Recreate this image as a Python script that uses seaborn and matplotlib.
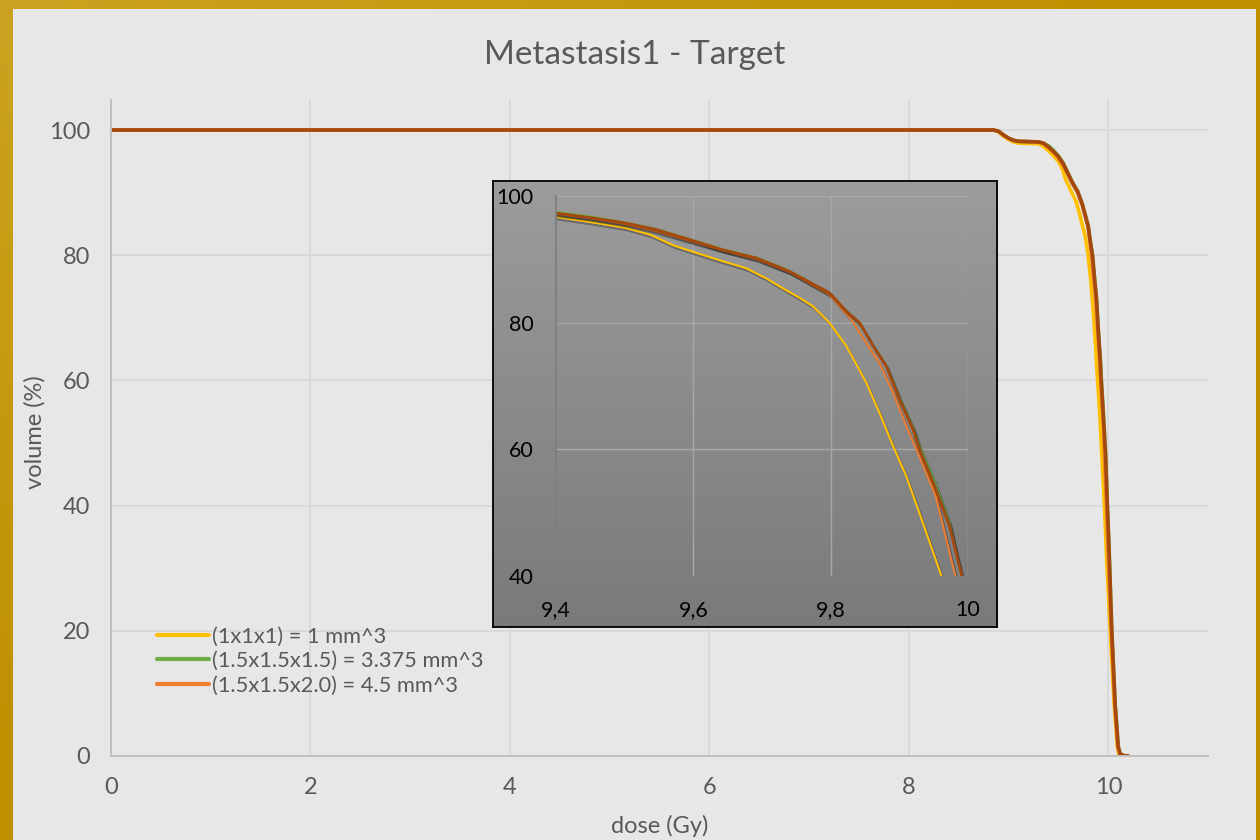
import numpy as np
import pandas as pd
import matplotlib
matplotlib.use("Agg")
import matplotlib.pyplot as plt
import matplotlib.patheffects as pe
from matplotlib.lines import Line2D
from matplotlib.patches import Rectangle
from matplotlib.ticker import FuncFormatter
import seaborn as sns

# ---- DVH data: dose (Gy) and volume (%) per voxel size ----
series_names = [
    "(1x1x1) = 1 mm^3",
    "(1.5x1.5x1.5) = 3.375 mm^3",
    "(1.5x1.5x2.0) = 4.5 mm^3",
    "series 4",
]
series_colors = ["#FFC000", "#70AD47", "#ED7D31", "#A5480D"]

dose_s1 = [0, 8.85, 8.90, 8.95, 9.00, 9.05, 9.10, 9.30, 9.35, 9.40, 9.45, 9.50,
           9.537, 9.571, 9.605, 9.643, 9.677, 9.706, 9.726, 9.755, 9.774, 9.798,
           9.823, 9.852, 9.871, 9.891, 9.910, 9.934, 9.962, 9.985, 10.02, 10.06,
           10.09, 10.105, 10.14, 10.20]
vol_s1 = [100, 100, 99.7, 99.0, 98.5, 98.1, 97.9, 97.8, 97.4, 96.7, 95.9, 95.0,
          93.9, 92.2, 91.0, 89.7, 88.6, 87.0, 85.7, 83.9, 82.6, 80.0,
          76.3, 70.5, 65.8, 60.5, 55.8, 48.5, 39.8, 31, 20, 8,
          1.5, 0.3, 0.05, 0]

dose_s2 = [0, 8.85, 8.90, 8.95, 9.00, 9.05, 9.10, 9.30, 9.35, 9.40, 9.449, 9.498,
           9.546, 9.595, 9.643, 9.692, 9.740, 9.7985, 9.823, 9.842, 9.862, 9.881,
           9.900, 9.920, 9.929, 9.951, 9.973, 9.989, 10.01, 10.035, 10.07, 10.10,
           10.12, 10.16, 10.20]
vol_s2 = [100, 100, 99.8, 99.2, 98.7, 98.35, 98.2, 98.1, 97.9, 97.5, 96.8, 95.9,
          94.8, 93.2, 91.6, 90.3, 88.2, 84.6, 81.9, 79.8, 76.4, 73.3,
          68.2, 63.5, 60.6, 55.0, 48.5, 40.5, 32, 20, 8, 1.5,
          0.3, 0.05, 0]

dose_s3 = [0, 8.85, 8.90, 8.95, 9.00, 9.05, 9.10, 9.30, 9.35, 9.40, 9.449, 9.498,
           9.546, 9.595, 9.643, 9.692, 9.740, 9.7985, 9.830, 9.842, 9.871, 9.891,
           9.910, 9.929, 9.953, 9.982, 10.00, 10.03, 10.065, 10.095, 10.115, 10.15,
           10.20]
vol_s3 = [100, 100, 99.8, 99.2, 98.7, 98.35, 98.2, 98.1, 97.85, 97.2, 96.5, 95.6,
          94.4, 92.9, 91.4, 90.0, 88.0, 84.4, 80.5, 78.4, 73.6, 68.9,
          63.7, 58.9, 52.6, 39.8, 32, 20, 8, 1.5, 0.3, 0.05,
          0]

dose_s4 = [0, 8.85, 8.90, 8.95, 9.00, 9.05, 9.10, 9.30, 9.35, 9.40, 9.449, 9.498,
           9.546, 9.595, 9.643, 9.692, 9.740, 9.7985, 9.823, 9.842, 9.862, 9.881,
           9.900, 9.920, 9.929, 9.951, 9.973, 9.991, 10.01, 10.035, 10.07, 10.10,
           10.12, 10.16, 10.20]
vol_s4 = [100, 100, 99.8, 99.2, 98.7, 98.35, 98.2, 98.1, 97.9, 97.3, 96.6, 95.8,
          94.7, 93.1, 91.5, 90.2, 88.1, 84.7, 81.8, 80.0, 76.3, 73.1,
          67.9, 63.1, 60.0, 54.2, 47.9, 40.0, 32, 20, 8, 1.5,
          0.3, 0.05, 0]

main_xticks = [0, 2, 4, 6, 8, 10]
main_yticks = [0, 20, 40, 60, 80, 100]
inset_xticks = [9.4, 9.6, 9.8, 10.0]
inset_yticks = [40, 60, 80, 100]

frames = []
for name, d, v in zip(series_names,
                      [dose_s1, dose_s2, dose_s3, dose_s4],
                      [vol_s1, vol_s2, vol_s3, vol_s4]):
    frames.append(pd.DataFrame({"dose": d, "volume": v, "series": name}))
df = pd.concat(frames, ignore_index=True)
palette = dict(zip(series_names, series_colors))

sns.set_style("white")
plt.rcParams["font.family"] = ["Lato", "DejaVu Sans"]

W, H = 1260, 840
def fx(px):
    return px / W
def fy(py):
    return 1 - py / H

fig = plt.figure(figsize=(W / 100, H / 100), dpi=100)

# gold frame with a soft diagonal sheen, light panel on top
ax_bg = fig.add_axes([0, 0, 1, 1])
ax_bg.set_axis_off()
ax_bg.set_zorder(-10)
gy, gx = np.mgrid[0:1:200j, 0:1:300j]
t = np.clip((gx + gy) / 0.9, 0, 1)
c0 = np.array([0.80, 0.64, 0.13])
c1 = np.array([0.75, 0.565, 0.0])
img = c0[None, None, :] * (1 - t[..., None]) + c1[None, None, :] * t[..., None]
ax_bg.imshow(img, extent=[0, 1, 0, 1], aspect="auto", origin="upper", zorder=0)
ax_bg.add_patch(Rectangle((fx(13), 0), fx(1256) - fx(13), fy(9),
                          facecolor="#E7E7E7", edgecolor="none", zorder=1))
ax_bg.set_xlim(0, 1)
ax_bg.set_ylim(0, 1)

# ---- main chart ----
ax = fig.add_axes([fx(111), fy(756), fx(1208) - fx(111), (756 - 100) / H])
ax.set_facecolor("none")
sns.lineplot(data=df, x="dose", y="volume", hue="series", hue_order=series_names,
             palette=palette, estimator=None, sort=False, linewidth=2.6,
             legend=False, ax=ax)
for ln in ax.lines:
    ln.set_solid_capstyle("round")
ax.set_xlim(0, 11)
ax.set_ylim(0, 104.8)
ax.set_xticks(main_xticks)
ax.set_yticks(main_yticks)
ax.grid(True, color="#D9D9D9", linewidth=1.4)
ax.set_axisbelow(True)
for s in ["top", "right"]:
    ax.spines[s].set_visible(False)
for s in ["left", "bottom"]:
    ax.spines[s].set_color("#BFBFBF")
    ax.spines[s].set_linewidth(1.4)
ax.tick_params(axis="both", length=0, labelcolor="#595959", labelsize=17)
ax.tick_params(axis="y", pad=15)
ax.tick_params(axis="x", pad=15)
ax.set_xlabel("")
ax.set_ylabel("")

handles = [Line2D([], [], color=c, linewidth=3) for c in series_colors[:3]]
ax.legend(handles, series_names[:3], loc="center left",
          bbox_to_anchor=(fx(157), fy(661)), bbox_transform=fig.transFigure,
          frameon=False, fontsize=15.7, handlelength=2.4, handletextpad=0.1,
          labelspacing=0.2, borderpad=0, borderaxespad=0, labelcolor="#595959")

fig.text(fx(634.5), fy(55), "Metastasis1 - Target", ha="center", va="center",
         fontsize=24, color="#595959")
fig.text(fx(35), fy(432), "volume (%)", rotation=90, ha="center", va="center",
         fontsize=17, color="#595959")
fig.text(fx(660), fy(826), "dose (Gy)", ha="center", va="center",
         fontsize=17, color="#595959")

# ---- zoomed inset ----
ax_fr = fig.add_axes([fx(493), fy(627), (997 - 493) / W, (627 - 181) / H])
grad = np.linspace(0, 1, 256)[:, None]
top = np.array([0.612, 0.612, 0.612])
bot = np.array([0.478, 0.478, 0.478])
gimg = top[None, None, :] * (1 - grad[..., None]) + bot[None, None, :] * grad[..., None]
gimg = np.repeat(gimg, 2, axis=1)
ax_fr.imshow(gimg, extent=[0, 1, 0, 1], aspect="auto", origin="upper")
ax_fr.set_xticks([])
ax_fr.set_yticks([])
for s in ax_fr.spines.values():
    s.set_color("black")
    s.set_linewidth(1.3)

ax_in = fig.add_axes([fx(556), fy(576), (968 - 556) / W, (576 - 196) / H])
ax_in.set_facecolor("none")
sns.lineplot(data=df, x="dose", y="volume", hue="series", hue_order=series_names,
             palette=palette, estimator=None, sort=False, linewidth=1.5,
             legend=False, ax=ax_in)
for ln in ax_in.lines:
    ln.set_path_effects([pe.SimpleLineShadow(offset=(1.2, -1.8), shadow_color="black",
                                             alpha=0.3),
                         pe.Normal()])
ax_in.lines[-1].set_linewidth(2.0)
ax_in.set_xlim(9.4, 10.0)
ax_in.set_ylim(40, 100)
ax_in.set_xticks(inset_xticks)
ax_in.set_yticks(inset_yticks)
comma = FuncFormatter(lambda v, p: f"{v:g}".replace(".", ","))
ax_in.xaxis.set_major_formatter(comma)
ax_in.grid(True, color="#A8A8A8", linewidth=1.0)
ax_in.set_axisbelow(True)
ax_in.yaxis.get_gridlines()[0].set_visible(False)
ax_in.xaxis.get_gridlines()[0].set_visible(False)
for s in ["top", "right", "bottom"]:
    ax_in.spines[s].set_visible(False)
ax_in.spines["left"].set_color("#7F7F7F")
ax_in.spines["left"].set_linewidth(1.3)
ax_in.tick_params(axis="both", length=0, labelcolor="black", labelsize=15.5)
ax_in.tick_params(axis="y", pad=16)
ax_in.tick_params(axis="x", pad=17)
ax_in.set_xlabel("")
ax_in.set_ylabel("")

fig.savefig("out.png", dpi=100)
